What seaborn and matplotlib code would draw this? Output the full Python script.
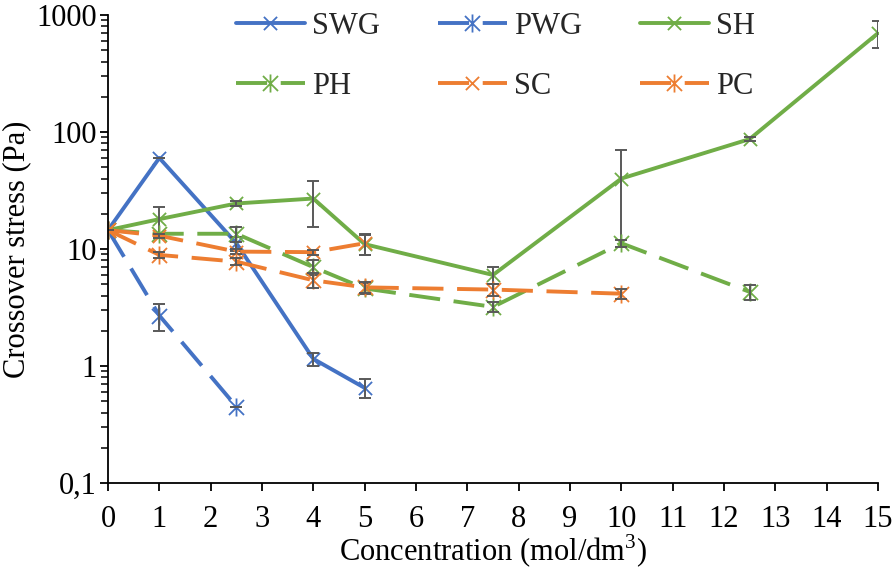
import pandas as pd
import seaborn as sns
import matplotlib.pyplot as plt
from matplotlib.path import Path

# =================================================================
# 1. Data
# =================================================================
conc_swg = [0, 1, 2.5, 4, 5]
swg = [14.5, 60, 11.2, 1.15, 0.65]
swg_err = [0, 0, 1.5, 0.15, 0.12]

conc_pwg = [0, 1, 2.5]
pwg = [14.5, 2.7, 0.45]
pwg_err = [0, 0.7, 0]

conc_sh = [0, 1, 2.5, 4, 5, 7.5, 10, 12.5, 15]
sh = [14.5, 18, 24.5, 27, 11, 6, 40, 87, 700]
sh_err = [0, 5, 1, 11.5, 2.2, 1, 29.5, 4, 180]

conc_ph = [0, 1, 2.5, 4, 5, 7.5, 10, 12.5]
ph = [14.5, 13.5, 13.5, 7, 4.6, 3.2, 11.2, 4.3]
ph_err = [0, 0, 2, 1, 0.5, 0.3, 0.8, 0.6]

conc_sc = [0, 1, 2.5, 4, 5]
sc = [14.5, 13, 9.5, 9.4, 11.2]
sc_err = [0, 0.5, 0.5, 0.5, 2.3]

conc_pc = [0, 1, 2.5, 4, 5, 7.5, 10]
pc = [14.5, 8.9, 7.8, 5.4, 4.7, 4.5, 4.15]
pc_err = [0, 0.6, 0.5, 0.8, 0.5, 0.5, 0.4]

ytick_vals = [0.1, 1, 10, 100, 1000]
ytick_labels = ["0,1", "1", "10", "100", "1000"]

# =================================================================
# 2. Styling
# =================================================================
BLUE, ORANGE, GREEN = "#4472C4", "#ED7D31", "#70AD47"
ERR_COLOR = "#595959"
LONG_DASH = (0, (8, 3.5))

x_mark = Path([(-1, -1), (1, 1), (-1, 1), (1, -1)],
              [Path.MOVETO, Path.LINETO, Path.MOVETO, Path.LINETO])
star_mark = Path([(-1, -1), (1, 1), (-1, 1), (1, -1), (0, -1.2), (0, 1.2)],
                 [Path.MOVETO, Path.LINETO, Path.MOVETO, Path.LINETO,
                  Path.MOVETO, Path.LINETO])

series = [
    ("SWG", conc_swg, swg, swg_err, BLUE, "-", x_mark, 9.5),
    ("PWG", conc_pwg, pwg, pwg_err, BLUE, LONG_DASH, star_mark, 13),
    ("SH", conc_sh, sh, sh_err, GREEN, "-", x_mark, 9.5),
    ("PH", conc_ph, ph, ph_err, GREEN, LONG_DASH, star_mark, 13),
    ("SC", conc_sc, sc, sc_err, ORANGE, LONG_DASH, x_mark, 9.5),
    ("PC", conc_pc, pc, pc_err, ORANGE, LONG_DASH, star_mark, 13),
]

sns.set_theme(style="white")
plt.rcParams["font.family"] = "serif"
plt.rcParams["font.serif"] = ["Liberation Serif", "DejaVu Serif"]
plt.rcParams["mathtext.fontset"] = "custom"
plt.rcParams["mathtext.rm"] = "Liberation Serif"

fig = plt.figure(figsize=(8.94, 5.69), dpi=100)
ax = fig.add_axes([108 / 894, 1 - 483 / 569, 770 / 894, 468 / 569])

# =================================================================
# 3. Plotting
# =================================================================
handles = {}
for name, xs, ys, errs, color, ls, mk, ms in series:
    df = pd.DataFrame({"conc": xs, "stress": ys, "err": errs})
    sns.lineplot(data=df, x="conc", y="stress", ax=ax, color=color,
                 linestyle=ls, linewidth=2.8, marker=mk, markersize=ms,
                 markerfacecolor="none", markeredgecolor=color,
                 markeredgewidth=1.3, errorbar=None, label=name)
    handles[name] = ax.lines[-1]
    ax.errorbar(df["conc"], df["stress"], yerr=df["err"], fmt="none",
                ecolor=ERR_COLOR, elinewidth=1.4, capsize=4.5, capthick=1.4,
                label="_nolegend_")

ax.set_yscale("log")
ax.set_ylim(0.1, 1000)
ax.set_xlim(0, 15)
ax.set_xticks(range(16))
ax.set_yticks(ytick_vals)
ax.set_yticklabels(ytick_labels)

for side in ["top", "right"]:
    ax.spines[side].set_visible(False)
for side in ["left", "bottom"]:
    ax.spines[side].set_color("black")
    ax.spines[side].set_linewidth(1.3)

ax.tick_params(axis="both", which="major", direction="out", length=6, width=1.3,
               color="black", labelsize=22, labelcolor="black", left=True, bottom=True)
ax.tick_params(axis="y", which="minor", direction="out", length=5, width=1.1,
               color="black", left=True)
ax.tick_params(axis="x", pad=10)
ax.tick_params(axis="y", pad=2)

ax.set_xlabel("Concentration (mol/dm$^3$)", fontsize=22, color="black")
ax.set_ylabel("Crossover stress (Pa)", fontsize=22, color="black")
ax.xaxis.set_label_coords(0.5, (483 - 533) / 468)
ax.yaxis.set_label_coords((31 - 108) / 770, 0.5)

# legend is filled column by column: order so rows read SWG PWG SH / PH SC PC
legend_order = ["SWG", "PH", "PWG", "SC", "SH", "PC"]
ax.legend(handles=[handles[n] for n in legend_order], labels=legend_order,
          ncol=3, frameon=False, loc="upper left",
          bbox_to_anchor=(236 / 894, 1 - 12 / 569), bbox_transform=fig.transFigure,
          fontsize=22, handlelength=2.25, handletextpad=0.23, columnspacing=1.9,
          labelspacing=1.0, borderpad=0, borderaxespad=0)

plt.savefig("out.png", dpi=100)
